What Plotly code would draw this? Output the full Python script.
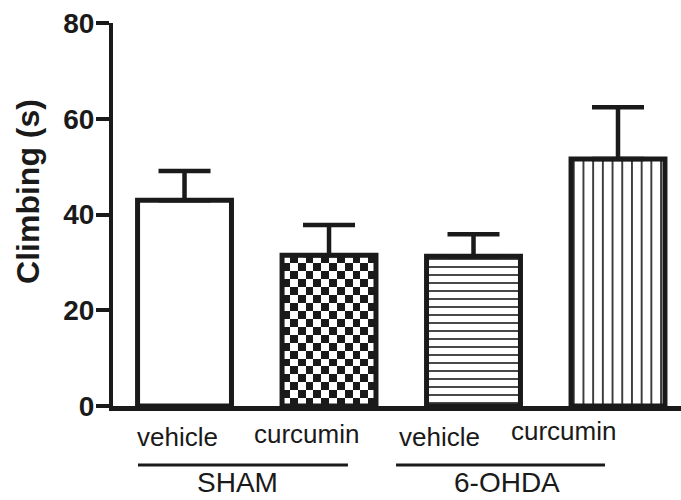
import numpy as np
import plotly.graph_objects as go

# Climbing time per group (mean and upper SEM)
conditions = ["vehicle", "curcumin", "vehicle", "curcumin"]
groups = ["SHAM", "6-OHDA"]
means = [43.0, 31.5, 31.3, 51.6]
sems = [6.1, 6.3, 4.6, 10.8]
y_ticks = [0, 20, 40, 60, 80]

INK = "#1a1a1a"
FONT = "Liberation Sans, Arial, Helvetica, sans-serif"
BAR_W = 0.65

x = list(range(len(means)))

fig = go.Figure()

# Checkerboard fill for the SHAM + curcumin bar, sized from its mean
ck = 1
ncols = 12
nrows = int(round(means[ck] * 4.79 / 7.75))
xe = np.linspace(x[ck] - BAR_W / 2, x[ck] + BAR_W / 2, ncols + 1)
ye = np.linspace(0, means[ck], nrows + 1)
zz = np.add.outer(np.arange(nrows), np.arange(ncols)) % 2
fig.add_trace(go.Heatmap(
    x=xe, y=ye, z=zz, zsmooth=False, showscale=False, hoverinfo="skip",
    colorscale=[[0, "white"], [1, INK]],
))

# one bar trace per condition so each can carry its own fill pattern
fills = [
    dict(color="white", pattern=None),
    dict(color="rgba(0,0,0,0)", pattern=None),
    dict(color="white", pattern=dict(shape="-", size=8, solidity=0.2)),
    dict(color="white", pattern=dict(shape="|", size=9.7, solidity=0.17)),
]
for i, (m, s, f) in enumerate(zip(means, sems, fills)):
    marker = dict(color=f["color"], line=dict(color=INK, width=5))
    if f["pattern"] is not None:
        marker["pattern"] = dict(fgcolor=INK, bgcolor="white", fillmode="replace",
                                 **f["pattern"])
    fig.add_trace(go.Bar(
        x=[x[i]], y=[m], width=BAR_W, marker=marker,
        error_y=dict(type="data", array=[s], arrayminus=[0], symmetric=False,
                     color=INK, thickness=4.5, width=26),
        hoverinfo="skip",
    ))

annotations = []
# condition labels under the bars
label_x = [-0.052, 0.841, 1.767, 2.626]
label_y = [-0.081, -0.073, -0.081, -0.066]
for lx, ly, name in zip(label_x, label_y, conditions):
    annotations.append(dict(x=lx, y=ly, xref="x", yref="paper", text=name,
                            showarrow=False, font=dict(family=FONT, size=26, color=INK),
                            xanchor="center", yanchor="middle"))

# group brackets and names
group_spans = [(-0.322, 1.131), (1.464, 2.910)]
group_text_x = [0.370, 2.232]
shapes = []
for (a, b), gx, gname in zip(group_spans, group_text_x, groups):
    shapes.append(dict(type="line", xref="x", yref="paper", x0=a, x1=b,
                       y0=-0.154, y1=-0.154, line=dict(color=INK, width=3)))
    annotations.append(dict(x=gx, y=-0.200, xref="x", yref="paper", text=gname,
                            showarrow=False, font=dict(family=FONT, size=28, color=INK),
                            xanchor="center", yanchor="middle"))

# y-axis title
annotations.append(dict(x=-0.150, y=0.561, xref="paper", yref="paper",
                        text="<b>Climbing (s)</b>", textangle=-90, showarrow=False,
                        font=dict(family=FONT, size=32, color=INK),
                        xanchor="center", yanchor="middle"))

fig.update_layout(
    width=681, height=500,
    margin=dict(l=113, r=0, t=23, b=94, pad=0),
    paper_bgcolor="white", plot_bgcolor="white",
    showlegend=False, barmode="overlay",
    annotations=annotations, shapes=shapes,
    xaxis=dict(range=[-0.495, 3.436], showgrid=False, zeroline=False,
               showticklabels=False, ticks="", showline=True,
               linecolor=INK, linewidth=4.5, fixedrange=True),
    yaxis=dict(range=[0, 80], tickvals=y_ticks, showgrid=False, zeroline=False,
               showline=True, linecolor=INK, linewidth=4, ticks="outside",
               ticklen=13, tickwidth=3.5, tickcolor=INK, ticklabelstandoff=-4,
               tickfont=dict(family=FONT, size=28, color=INK, weight="bold"),
               fixedrange=True),
)

fig.write_html("out.html")
